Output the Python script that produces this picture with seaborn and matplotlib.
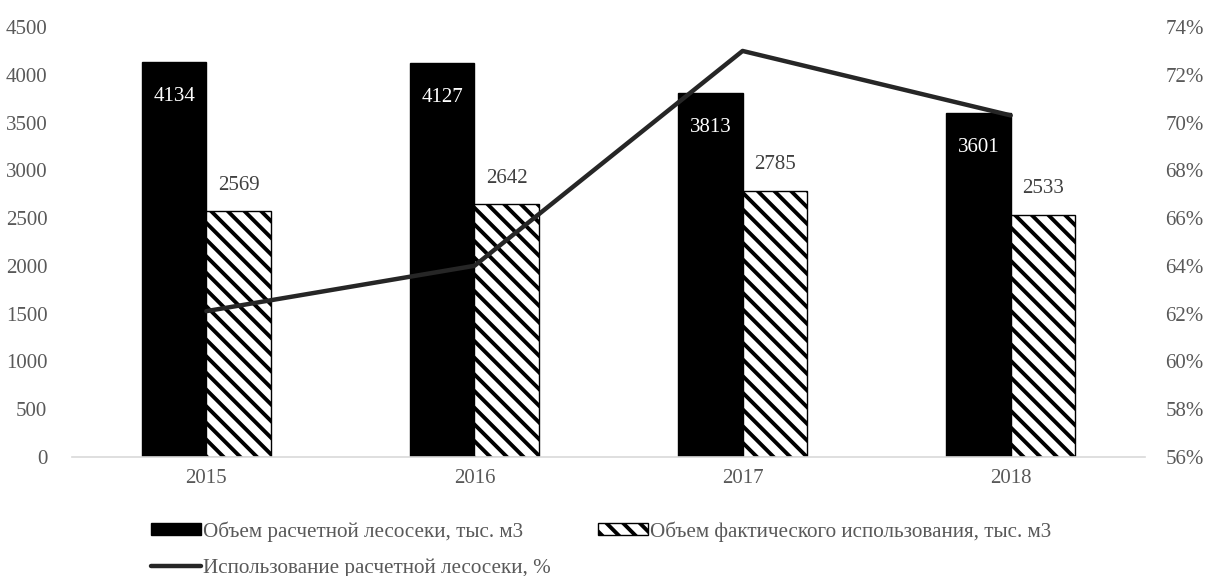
import pandas as pd
import matplotlib.pyplot as plt
import seaborn as sns
import numpy as np
from matplotlib.patches import Patch
from matplotlib.lines import Line2D
from matplotlib.ticker import PercentFormatter

# data
years = ['2015', '2016', '2017', '2018']
plan_volume = [4134, 4127, 3813, 3601]
actual_volume = [2569, 2642, 2785, 2533]
usage_pct = [62.1, 64.0, 73.0, 70.3]

name_plan = 'Объем расчетной лесосеки, тыс. м3'
name_actual = 'Объем фактического использования, тыс. м3'
name_usage = 'Использование расчетной лесосеки, %'

df = pd.DataFrame({
    'year': years * 2,
    'value': plan_volume + actual_volume,
    'series': [name_plan] * len(years) + [name_actual] * len(years),
})

sns.set_theme(style='white')
plt.rcParams['font.family'] = ['Liberation Serif', 'DejaVu Serif']
plt.rcParams['hatch.linewidth'] = 2.8
plt.rcParams['hatch.color'] = 'black'

tick_color = '#595959'
hatch = '\\\\'

fig = plt.figure(figsize=(12.05, 5.76), dpi=100)
ax = fig.add_axes([0.06, 0.207, 0.89, 0.746])

sns.barplot(data=df, x='year', y='value', hue='series',
            palette=['black', 'white'], edgecolor='black', linewidth=1,
            width=0.48, gap=0, ax=ax, legend=False)

# hatch for the second series
for bar in ax.containers[1]:
    bar.set_hatch(hatch)
    bar.set_facecolor('white')

ax.set_ylim(0, 4500)
ax.set_yticks(np.arange(0, 4501, 500))
ax.set_xlim(-0.5, len(years) - 0.5)
ax.set_xlabel('')
ax.set_ylabel('')

for s in ['top', 'left', 'right']:
    ax.spines[s].set_visible(False)
ax.spines['bottom'].set_color('#d9d9d9')
ax.spines['bottom'].set_linewidth(1.2)
ax.tick_params(axis='both', length=0, labelsize=15, colors=tick_color)
ax.tick_params(axis='y', pad=18)
ax.tick_params(axis='x', pad=9)

# value labels
ax.bar_label(ax.containers[0], labels=[str(v) for v in plan_volume],
             padding=-32, color='white', fontsize=15)
ax.bar_label(ax.containers[1], labels=[str(v) for v in actual_volume],
             padding=12, color='#404040', fontsize=15)

# usage line on secondary axis
ax2 = ax.twinx()
sns.lineplot(x=np.arange(len(years)), y=usage_pct, ax=ax2,
             color='#262626', linewidth=3.2)
ax2.set_ylim(56, 74)
ax2.set_yticks(np.arange(56, 75, 2))
ax2.yaxis.set_major_formatter(PercentFormatter(decimals=0))
ax2.set_xlim(-0.5, len(years) - 0.5)
for s in ['top', 'left', 'right', 'bottom']:
    ax2.spines[s].set_visible(False)
ax2.tick_params(axis='y', length=0, labelsize=15, colors=tick_color, pad=15)
ax2.grid(False)

handles = [
    Patch(facecolor='black', edgecolor='black'),
    Line2D([0], [0], color='#262626', linewidth=3.2),
    Patch(facecolor='white', edgecolor='black', hatch=hatch),
]
labels = [name_plan, name_usage, name_actual]
fig.legend(handles, labels, loc='upper left', bbox_to_anchor=(0.118, 0.11),
           ncol=2, frameon=False, fontsize=15.2, labelcolor=tick_color,
           handlelength=2.4, handleheight=0.5, handletextpad=0.1,
           columnspacing=2.2, labelspacing=0.8, borderaxespad=0)

fig.savefig('out.png', dpi=100)
